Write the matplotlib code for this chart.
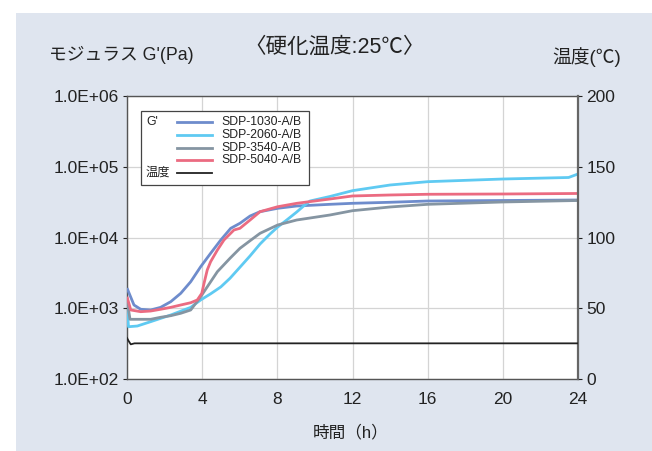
import numpy as np
import matplotlib
matplotlib.use('Agg')
import matplotlib.pyplot as plt
from matplotlib.patches import Rectangle
from matplotlib.lines import Line2D
from matplotlib.ticker import FixedLocator, FuncFormatter, NullLocator

plt.rcParams['font.family'] = ['Liberation Sans', 'Noto Sans CJK JP', 'DejaVu Sans']

# ── Data ─────────────────────────────────────────────────────────────────────
series_names = ['SDP-1030-A/B', 'SDP-2060-A/B', 'SDP-3540-A/B', 'SDP-5040-A/B']
series_colors = ['#6e8ccc', '#5fcaf2', '#8595a2', '#eb6b81']

t_1030 = [0, 0.37, 0.73, 1.26, 1.79, 2.33, 2.86, 3.39, 3.92, 4.45, 4.99, 5.52,
          6.01, 6.55, 7.08, 8.02, 9.03, 10.8, 12, 14, 16, 20, 24]
g_1030 = [1930, 1112, 967, 945, 1030, 1239, 1626, 2372, 3865, 5980, 9220, 13490,
          15880, 20130, 23170, 25870, 27870, 29440, 30430, 31460, 32800, 33340, 33900]

t_2060 = [0, 0.08, 0.55, 1.26, 2.33, 3.39, 3.92, 4.45, 4.99, 5.48, 6.01, 6.55,
          7.08, 7.61, 8.02, 8.5, 9.03, 9.4, 9.74, 10.8, 12, 14, 16, 20, 23.5, 24]
g_2060 = [1052, 548, 561, 646, 803, 1030, 1309, 1600, 2000, 2650, 3800, 5500,
          8090, 11200, 14070, 17670, 22910, 27870, 32800, 38000, 45920, 55210,
          61500, 67100, 70500, 79000]

t_3540 = [0, 0.16, 1.26, 1.79, 2.33, 2.86, 3.39, 3.92, 4.81, 5.48, 6.01, 6.55,
          7.08, 8.02, 9.03, 10.8, 12, 14, 16, 20, 24]
g_3540 = [1309, 698, 698, 745, 785, 849, 945, 1455, 3289, 5080, 7030, 9010,
          11460, 15030, 17670, 20800, 23930, 27000, 29440, 31770, 33340]

t_5040 = [0, 0.2, 0.73, 1.26, 1.79, 2.33, 2.86, 3.39, 3.74, 3.98, 4.10, 4.27,
          4.45, 4.81, 5.16, 5.69, 6.01, 6.55, 7.08, 8.02, 9.03, 10.8, 12, 14,
          16, 20, 24]
g_5040 = [1455, 945, 894, 914, 967, 1030, 1112, 1197, 1309, 1626, 2253, 3475,
          4550, 6650, 9220, 12760, 13490, 17670, 23170, 27230, 30410, 35000, 38640,
          39900, 40820, 41200, 41900]

t_temp = [0, 0.08, 0.2, 0.4, 24]
temp = [29, 27, 24.5, 25.2, 25.2]

times = [t_1030, t_2060, t_3540, t_5040]
values = [g_1030, g_2060, g_3540, g_5040]

# ── Figure ───────────────────────────────────────────────────────────────────
W, H = 652, 451
fig = plt.figure(figsize=(W / 100, H / 100), dpi=100)
fig.patch.set_facecolor('white')
fig.patches.append(Rectangle((16 / W, 0), 1 - 16 / W, 1 - 13 / H,
                             transform=fig.transFigure, facecolor='#dfe5ef',
                             edgecolor='none', zorder=-10))

ax = fig.add_axes([127 / W, 1 - 379 / H, 451 / W, 283 / H])
ax.set_facecolor('white')
ax.set_yscale('log')
ax.set_ylim(1e2, 1e6)
ax.set_xlim(0, 24)
ax.set_xticks([0, 4, 8, 12, 16, 20, 24])
ax.yaxis.set_major_locator(FixedLocator([1e2, 1e3, 1e4, 1e5, 1e6]))
ax.yaxis.set_minor_locator(NullLocator())
ax.yaxis.set_major_formatter(FuncFormatter(lambda v, p: '1.0E+%02d' % round(np.log10(v))))
ax.grid(True, color='#d4d4d4', lw=0.9)
ax.set_axisbelow(True)
ax.tick_params(axis='both', labelsize=12.5, colors='#222222', length=3, width=0.8)
ax.tick_params(axis='x', length=0, pad=9)
ax.tick_params(axis='y', pad=3)

for sp in ['left', 'top', 'bottom']:
    ax.spines[sp].set_color('#555555')
    ax.spines[sp].set_linewidth(1.0)
ax.spines['right'].set_visible(False)

for tt, gg, c in zip(times, values, series_colors):
    ax.plot(tt, gg, color=c, lw=2.0, solid_capstyle='butt',
            solid_joinstyle='round', zorder=3)

ax2 = ax.twinx()
ax2.set_ylim(0, 200)
ax2.set_yticks([0, 50, 100, 150, 200])
ax2.tick_params(axis='y', labelsize=12.5, colors='#222222', length=3, width=0.8, pad=3)
ax2.spines['right'].set_color('#666666')
ax2.spines['right'].set_linewidth(1.6)
for sp in ['left', 'top', 'bottom']:
    ax2.spines[sp].set_visible(False)
ax2.plot(t_temp, temp, color='#222222', lw=1.3, zorder=3)

# ── Legend box (manual, to match layout) ────────────────────────────────────
def px(xp, yp):
    return ((xp - 127) / 451, (379 - yp) / 283)

x0, y0 = px(140.5, 184.5)
x1, y1 = px(308.5, 110.5)
ax2.add_patch(Rectangle((x0, y0), x1 - x0, y1 - y0, transform=ax2.transAxes,
                        facecolor='white', edgecolor='#444444', lw=0.9, zorder=5))
rows_y = [122.3, 134.7, 148.0, 160.3]
for name, c, yy in zip(series_names, series_colors, rows_y):
    la, lb = px(177, yy)
    lc, _ = px(212, yy)
    ax2.add_line(Line2D([la, lc], [lb, lb], transform=ax2.transAxes, color=c,
                        lw=2.0, zorder=6))
    tx, _ = px(221.5, yy)
    ax2.text(tx, lb, name, transform=ax2.transAxes, fontsize=8.8, va='center',
             ha='left', color='#222222', zorder=6)
la, lb = px(177, 172.7)
lc, _ = px(212, 172.7)
ax2.add_line(Line2D([la, lc], [lb, lb], transform=ax2.transAxes, color='#222222',
                    lw=1.3, zorder=6))
gx, gy = px(146, 122.3)
ax2.text(gx, gy, "G'", transform=ax2.transAxes, fontsize=8.8, va='center',
         ha='left', color='#222222', zorder=6)
gx, gy = px(146, 172.7)
ax2.text(gx, gy, '温度', transform=ax2.transAxes, fontsize=8.8, va='center',
         ha='left', color='#222222', zorder=6)

# ── Titles / labels ──────────────────────────────────────────────────────────
fig.text(335 / W, 1 - 47 / H, '〈硬化温度:25℃〉', fontsize=15.5, ha='center',
         va='center', color='#222222')
fig.text(49 / W, 1 - 55 / H, "モジュラス G'(Pa)", fontsize=12.8, ha='left',
         va='center', color='#222222')
fig.text(621 / W, 1 - 57 / H, '温度(℃)', fontsize=13.5, ha='right',
         va='center', color='#222222')
fig.text(351 / W, 1 - 432 / H, '時間（h）', fontsize=12, ha='center',
         va='center', color='#222222')

fig.savefig('out.png', dpi=100, facecolor=fig.get_facecolor())
